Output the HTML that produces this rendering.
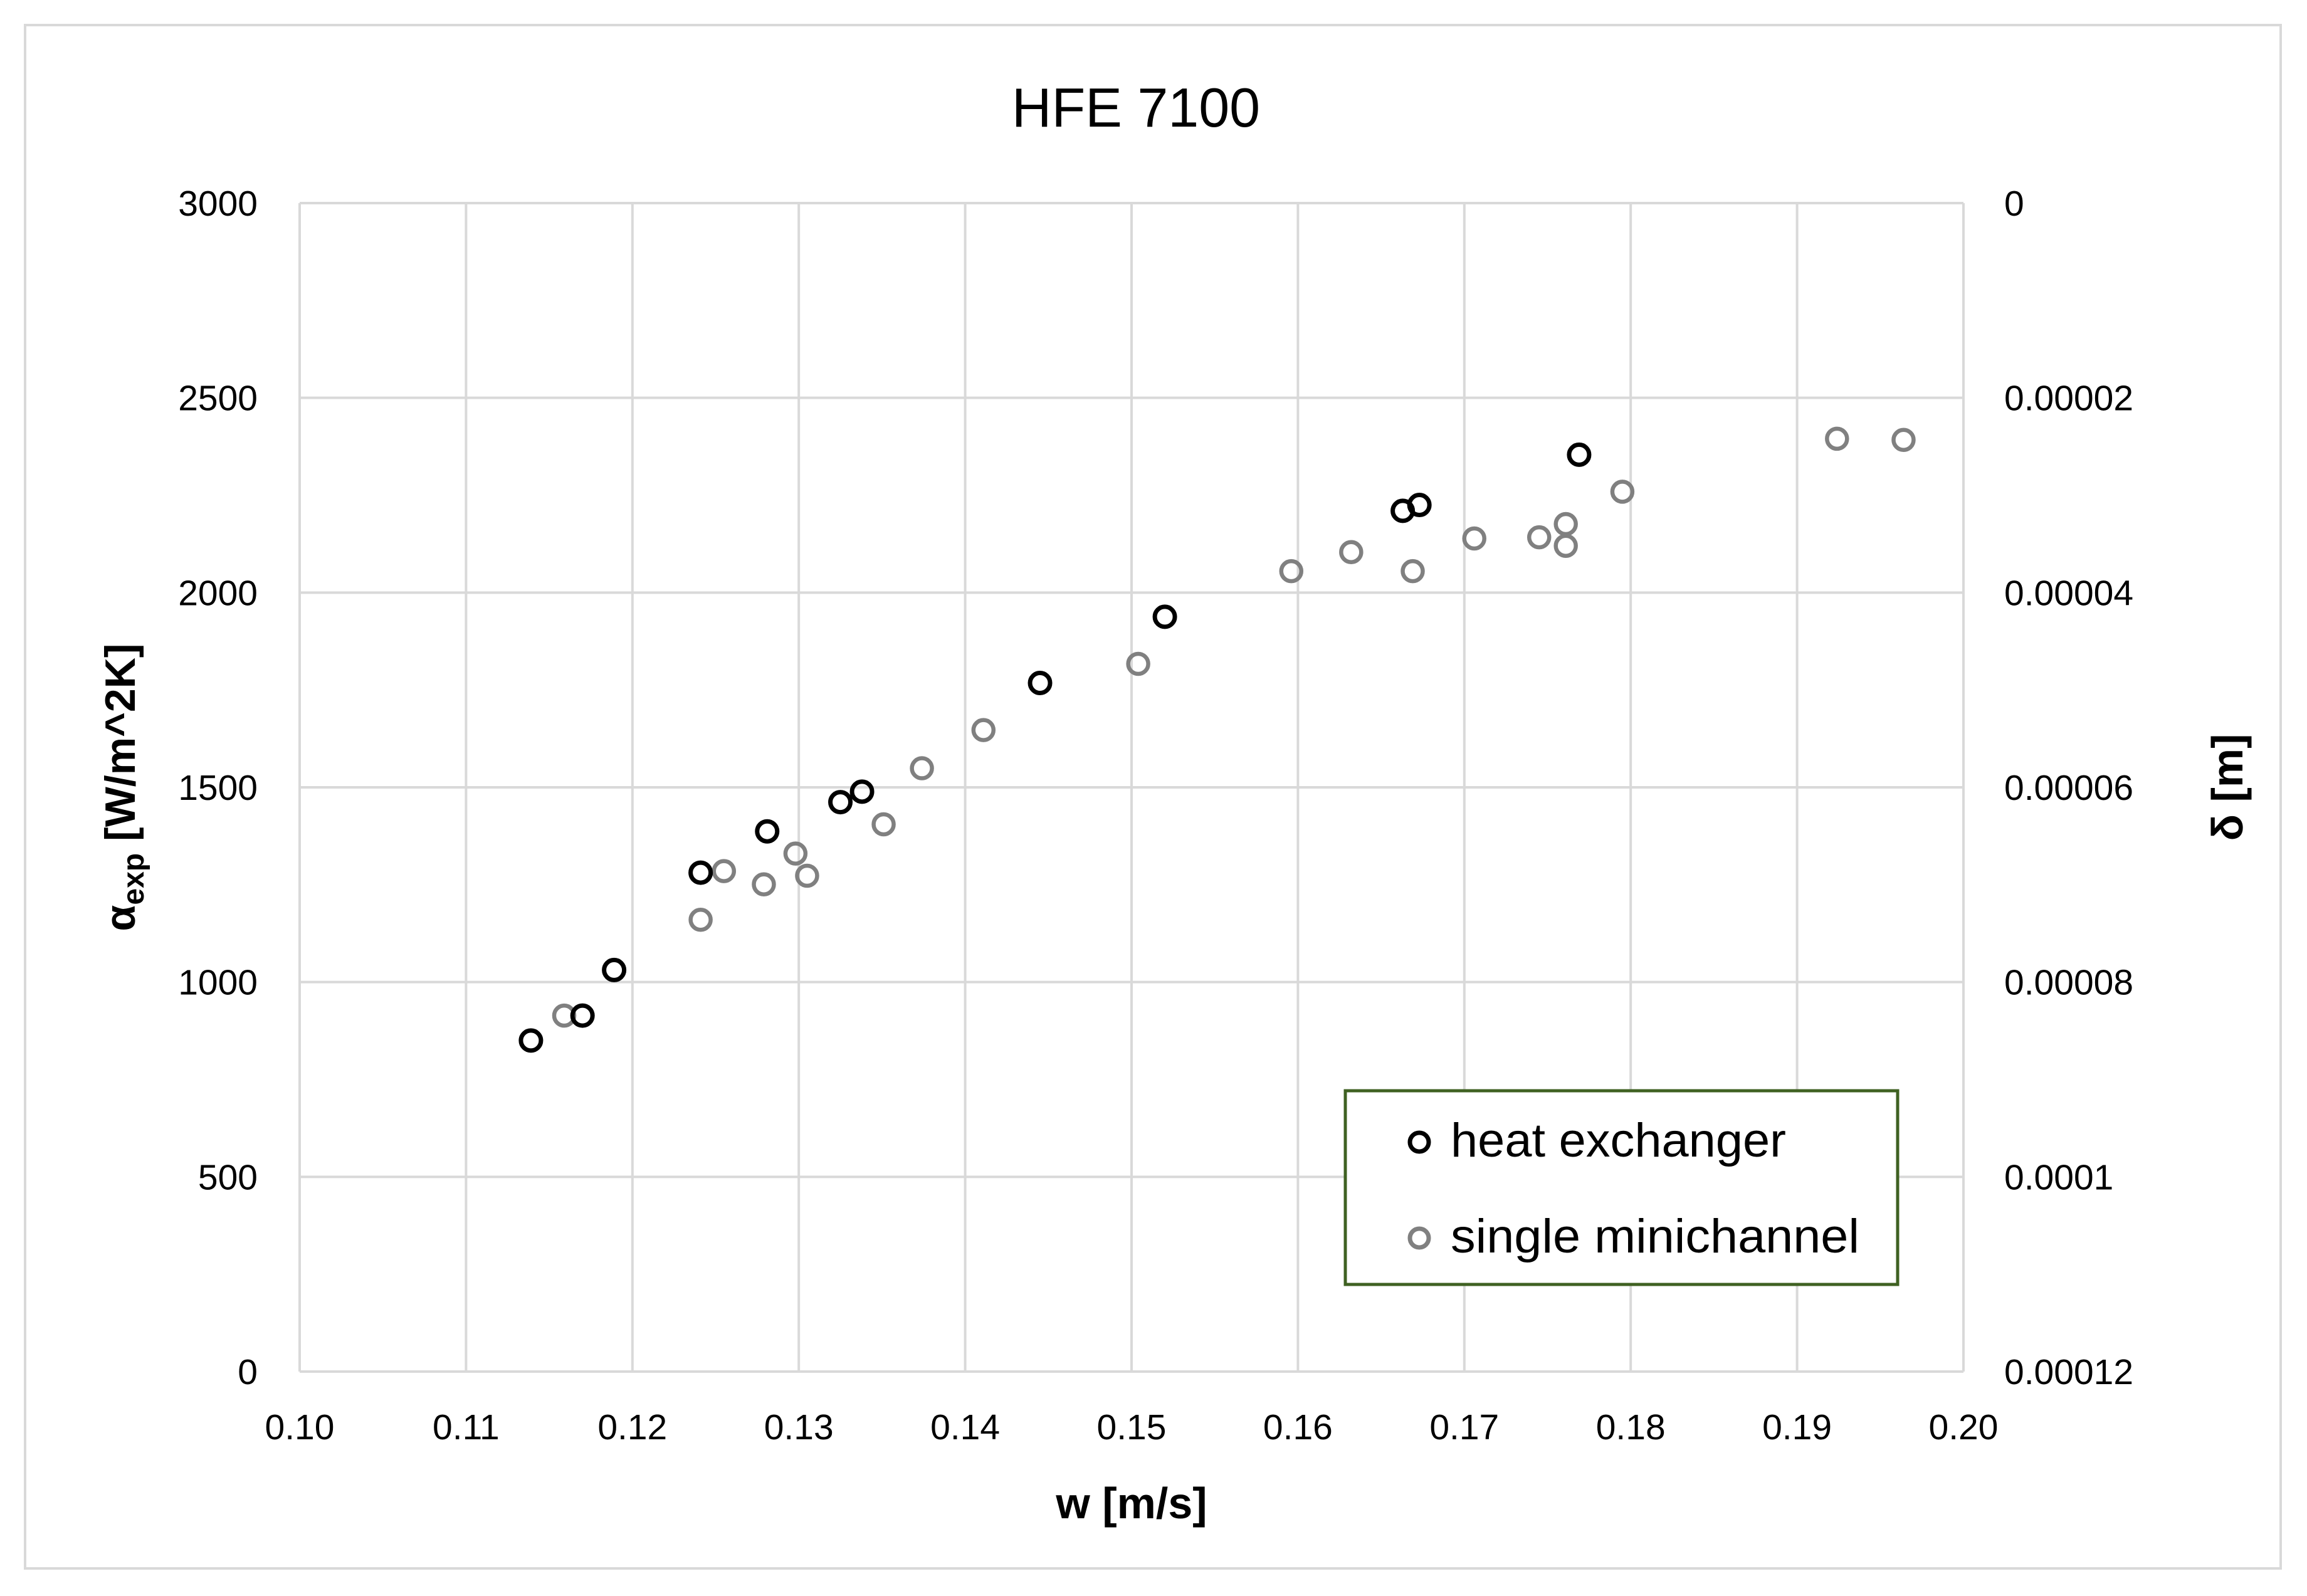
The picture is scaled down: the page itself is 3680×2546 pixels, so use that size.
<!DOCTYPE html>
<html><head><meta charset="utf-8"><style>
html,body{margin:0;padding:0;background:#fff}
svg text{font-family:"Liberation Sans",sans-serif}
</style></head><body>
<svg id="chart" width="3680" height="2541" viewBox="0 0 3680 2541" xmlns="http://www.w3.org/2000/svg">
<rect x="40" y="40" width="3598" height="2462" fill="#fff" stroke="#d9d9d9" stroke-width="4"/>
<text x="1812" y="202" font-size="88" text-anchor="middle" fill="#000">HFE 7100</text>
<g id="grid"></g>
<g id="ticks"></g>
<g id="points"></g>
<text x="1805" y="2422" font-size="70" font-weight="bold" text-anchor="middle">w [m/s]</text>
<text transform="translate(215,1256) rotate(-90)" font-size="68" font-weight="bold" text-anchor="middle">α<tspan font-size="48" dy="14">exp</tspan><tspan dy="-14"> [W/m^2K]</tspan></text>
<text transform="translate(3577,1256) rotate(-90)" font-size="70" font-weight="bold" text-anchor="middle">δ [m]</text>
<g>
<rect x="2146" y="1740" width="881" height="309" fill="#fff" stroke="#3f6122" stroke-width="5"/>
<circle cx="2264" cy="1822" r="15" fill="none" stroke="#000" stroke-width="7"/>
<text x="2314" y="1845" font-size="76" textLength="535" lengthAdjust="spacingAndGlyphs">heat exchanger</text>
<circle cx="2264" cy="1975" r="15" fill="none" stroke="#808080" stroke-width="7"/>
<text x="2314" y="1998" font-size="76" textLength="652" lengthAdjust="spacingAndGlyphs">single minichannel</text>
</g>
</svg>
<script>
const xTicks = [0.10,0.11,0.12,0.13,0.14,0.15,0.16,0.17,0.18,0.19,0.20];
const yTicks = [0,500,1000,1500,2000,2500,3000];
const y2TickLabels = ["0.00012","0.0001","0.00008","0.00006","0.00004","0.00002","0"];
const heatX = [0.1139,0.1170,0.1189,0.1241,0.1281,0.1325,0.1338,0.1445,0.1520,0.1663,0.1673,0.1769];
const heatY = [850,914,1031,1281,1387,1462,1489,1768,1938,2210,2225,2354];
const miniX = [0.1159,0.1255,0.1241,0.1279,0.1298,0.1305,0.1351,0.1374,0.1411,0.1504,0.1596,0.1632,0.1669,0.1706,0.1745,0.1761,0.1761,0.1795,0.1924,0.1964];
const miniY = [914,1285,1160,1251,1330,1273,1405,1549,1647,1817,2055,2104,2055,2139,2142,2176,2120,2259,2395,2392];

const NS="http://www.w3.org/2000/svg";
const L=478,R=3132,T=324,B=2188;
function xs(v){return L+(v-0.10)/(0.20-0.10)*(R-L);}
function ys(v){return B-(v-0)/(3000-0)*(B-T);}
function mk(tag,attrs,parent){const e=document.createElementNS(NS,tag);for(const k in attrs)e.setAttribute(k,attrs[k]);parent.appendChild(e);return e;}
const grid=document.getElementById('grid'),ticks=document.getElementById('ticks'),pts=document.getElementById('points');
xTicks.forEach(v=>{
  const l=mk('line',{x1:xs(v),x2:xs(v),y1:T,y2:B,stroke:'#d9d9d9','stroke-width':4},grid);
  
  
  const t=mk('text',{x:xs(v),y:2296,'font-size':57,'text-anchor':'middle'},ticks);
  t.textContent=v.toFixed(2);
  
  
});
yTicks.forEach((v,i)=>{
  const l=mk('line',{x1:L,x2:R,y1:ys(v),y2:ys(v),stroke:'#d9d9d9','stroke-width':4},grid);
  
  
  const t=mk('text',{x:411,y:ys(v)+20,'font-size':57,'text-anchor':'end'},ticks);
  t.textContent=String(v);
  
  
  const t2=mk('text',{x:3197,y:ys(v)+20,'font-size':57,'text-anchor':'start'},ticks);
  t2.textContent=y2TickLabels[i];
  
  
});
miniX.forEach((x,i)=>{
  const c=mk('circle',{cx:xs(x),cy:ys(miniY[i]),r:16,fill:'none',stroke:'#808080','stroke-width':6.5},pts);
  
  
});
heatX.forEach((x,i)=>{
  const c=mk('circle',{cx:xs(x),cy:ys(heatY[i]),r:16,fill:'none',stroke:'#000','stroke-width':7},pts);
  
  
});
</script>
</body></html>
